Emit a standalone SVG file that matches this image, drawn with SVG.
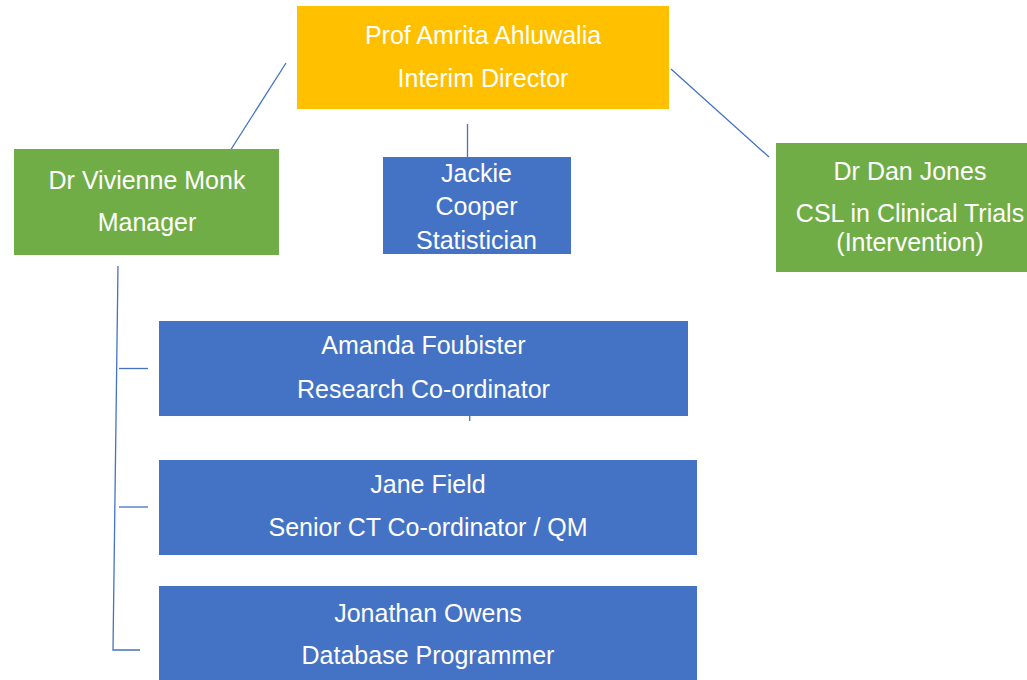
<svg xmlns="http://www.w3.org/2000/svg" width="1027" height="680" viewBox="0 0 1027 680">
<style>
.t{font-family:"Liberation Sans",Arial,sans-serif;font-size:25px;fill:#fff;text-anchor:middle}
.c{stroke:#4472C4;stroke-width:1.3;fill:none}
.y{fill:#FFC000}.g{fill:#70AD47}.b{fill:#4472C4}
</style>
<rect width="1027" height="680" fill="#fff"/>
<g id="connectors">
<line class="c" x1="286" y1="63" x2="230" y2="151"/>
<line class="c" x1="671" y1="69" x2="769" y2="157"/>
<line class="c" x1="467.5" y1="124" x2="467.5" y2="157"/>
<polyline class="c" points="118,266 113,650 140,650"/>
<line class="c" x1="119" y1="368.5" x2="148" y2="368.5"/>
<line class="c" x1="119" y1="507" x2="148" y2="507"/>
<line class="c" x1="469.7" y1="416" x2="469.7" y2="421"/>
</g>
<g id="director">
<rect class="y" x="297" y="6" width="372" height="103"/>
<text class="t" x="483" y="44">Prof Amrita Ahluwalia</text>
<text class="t" x="483" y="87">Interim Director</text>
</g>
<g id="manager">
<rect class="g" x="14" y="149" width="265" height="106"/>
<text class="t" x="147" y="189">Dr Vivienne Monk</text>
<text class="t" x="147" y="231">Manager</text>
</g>
<g id="statistician">
<rect class="b" x="383" y="157" width="188" height="97"/>
<text class="t" x="476.5" y="182">Jackie</text>
<text class="t" x="476.5" y="215">Cooper</text>
<text class="t" x="476.5" y="249">Statistician</text>
</g>
<g id="csl">
<rect class="g" x="776" y="143" width="268" height="129"/>
<text class="t" x="910" y="180">Dr Dan Jones</text>
<text class="t" x="910" y="222">CSL in Clinical Trials</text>
<text class="t" x="910" y="251">(Intervention)</text>
</g>
<g id="research">
<rect class="b" x="159" y="321" width="529" height="95"/>
<text class="t" x="423.5" y="354">Amanda Foubister</text>
<text class="t" x="423.5" y="398">Research Co-ordinator</text>
</g>
<g id="senior">
<rect class="b" x="159" y="460" width="538" height="95"/>
<text class="t" x="428" y="493">Jane Field</text>
<text class="t" x="428" y="536">Senior CT Co-ordinator / QM</text>
</g>
<g id="database">
<rect class="b" x="159" y="586" width="538" height="100"/>
<text class="t" x="428" y="622">Jonathan Owens</text>
<text class="t" x="428" y="664">Database Programmer</text>
</g>
</svg>
